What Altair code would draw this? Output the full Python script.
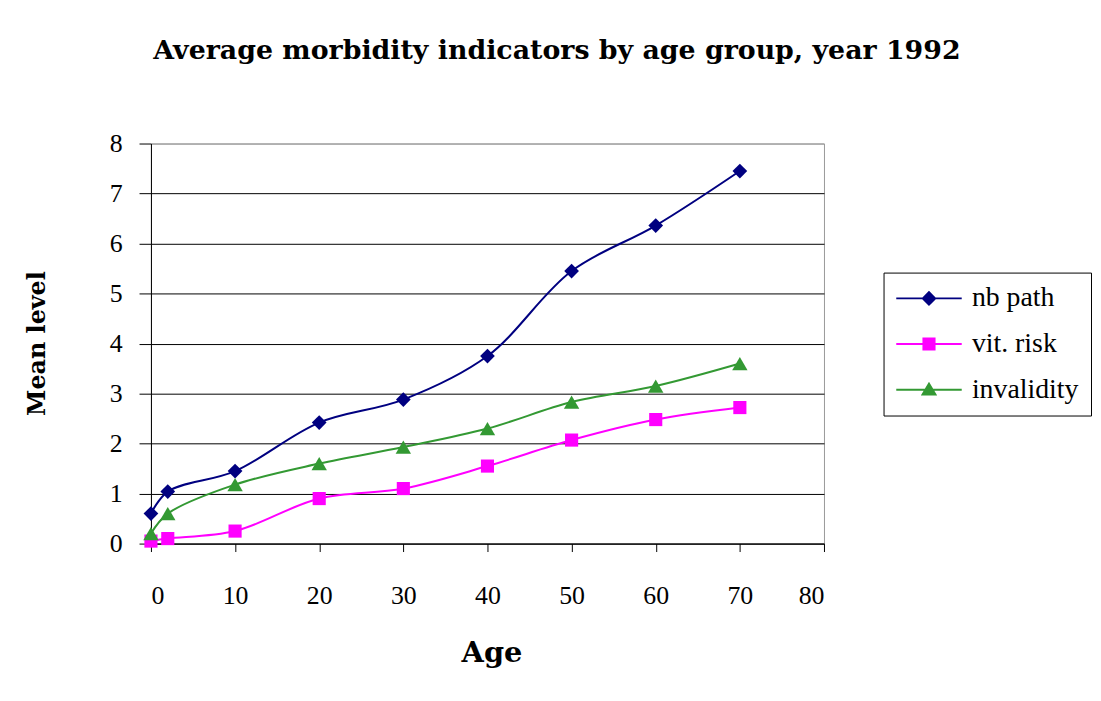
import altair as alt
import pandas as pd

ages = [0, 2, 10, 20, 30, 40, 50, 60, 70]
series_names = ["nb path", "vit. risk", "invalidity"]
nb_path = [0.6, 1.04, 1.45, 2.42, 2.88, 3.75, 5.45, 6.36, 7.45]
vit_risk = [0.05, 0.1, 0.25, 0.9, 1.1, 1.55, 2.07, 2.48, 2.72]
invalidity = [0.2, 0.6, 1.18, 1.6, 1.93, 2.3, 2.83, 3.15, 3.6]
colors = ["#000080", "#FF00FF", "#339933"]
shapes = ["diamond", "square", "triangle-up"]
legend_paths = [
    "M-2,-0.15H8V0.15H-2Z M3,-1.15L4.15,0L3,1.15L1.85,0Z",
    "M-2,-0.15H8V0.15H-2Z M2,-1H4V1H2Z",
    "M-2,-0.15H8V0.15H-2Z M3,-1.2L4.25,0.9H1.75Z",
]

rows = []
for name, vals in zip(series_names, [nb_path, vit_risk, invalidity]):
    for a, v in zip(ages, vals):
        rows.append({"age": a, "value": v, "series": name})
df = pd.DataFrame(rows)

FONT = "Liberation Serif"
TFONT = "DejaVu Serif"

x = alt.X(
    "age:Q",
    scale=alt.Scale(domain=[0, 80], nice=False, zero=False),
    axis=alt.Axis(
        values=list(range(0, 81, 10)), grid=False, title="Age",
        titleX=343, titleY=110, titleBaseline="middle", titleAlign="center",
        titleFontSize=29, tickSize=8, labelPadding=31,
    ),
)
y = alt.Y(
    "value:Q",
    scale=alt.Scale(domain=[0, 8], nice=False),
    axis=alt.Axis(
        values=list(range(0, 9)), grid=True, title="Mean level",
        gridColor=alt.condition("datum.value == 8", alt.value("#999999"), alt.value("#000000")),
        titleX=-114, titleY=201, titleBaseline="middle", titleAlign="center", titleAngle=270,
        titleFontSize=24, tickSize=12, labelPadding=17,
    ),
)
color = alt.Color(
    "series:N",
    scale=alt.Scale(domain=series_names, range=colors),
    title=None,
)

lines = alt.Chart(df).mark_line(interpolate="catmull-rom", strokeWidth=2).encode(
    x=x, y=y, color=color, detail="series:N"
)

point_layers = []
for name, c, s, sz in zip(series_names, colors, shapes, [220, 175, 240]):
    point_layers.append(
        alt.Chart(df).transform_filter(alt.datum.series == name)
        .mark_point(filled=True, shape=s, size=sz, color=c, opacity=1, strokeWidth=0)
        .encode(x=x, y=y)
    )

legend_layer = alt.Chart(df).transform_filter("false").mark_point(
    filled=True, opacity=1
).encode(
    x=x, y=y, color=color,
    shape=alt.Shape("series:N", scale=alt.Scale(domain=series_names, range=legend_paths), title=None),
)

chart = alt.layer(lines, *point_layers, legend_layer).properties(
    width=678, height=403,
    title=alt.TitleParams(
        "Average morbidity indicators by age group, year 1992",
        font=TFONT, fontSize=27, fontWeight="bold", color="black",
        anchor="middle", dx=70, offset=66,
    ),
    background="white",
    autosize=alt.AutoSizeParams(type="none"),
    padding={"left": 144, "top": 134, "right": 271, "bottom": 150},
).configure_view(
    stroke="#999999", strokeWidth=1, fill="white"
).configure_axis(
    labelFont=FONT, labelFontSize=26, labelColor="black",
    titleFont=TFONT, titleFontWeight="bold", titleColor="black",
    domainColor="black", domainWidth=1, tickColor="black", gridWidth=1,
).configure_legend(
    orient="none", legendX=738, legendY=130,
    strokeColor="black", strokeWidth=1, fillColor="white", padding=12,
    labelFont=FONT, labelFontSize=28, labelColor="black",
    symbolSize=174, symbolStrokeWidth=0, labelOffset=49, rowPadding=18,
)

chart.save("out.html", embed_options={"renderer": "svg", "actions": False})
